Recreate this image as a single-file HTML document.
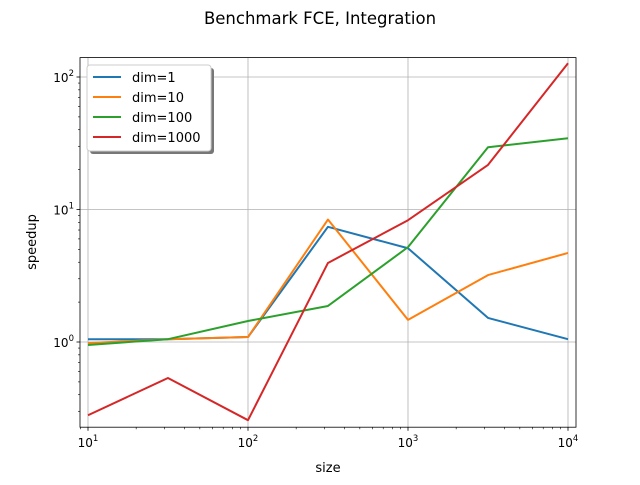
<!DOCTYPE html>
<html><head><meta charset="utf-8"><style>
body{margin:0;background:#fff;}
svg text{font-family:"DejaVu Sans","Liberation Sans",sans-serif;}
</style></head><body>
<svg id="chart" width="640" height="480" xmlns="http://www.w3.org/2000/svg">
<rect width="640" height="480" fill="#fff"/>
<text x="320" y="24" text-anchor="middle" font-size="16.5">Benchmark FCE, Integration</text>
<g id="grid"></g><g id="ticks"></g><g id="series"></g>
<rect x="80" y="57.6" width="496" height="369.6" fill="none" stroke="#000" stroke-width="0.8"/>
<text x="328" y="472" text-anchor="middle" font-size="13">size</text>
<text transform="translate(36,242) rotate(-90)" text-anchor="middle" font-size="13">speedup</text>
<g id="legend"></g>
</svg>
<script>
const sizes=[10,31.6,100,316,1000,3162,10000];
const seriesNames=["dim=1","dim=10","dim=100","dim=1000"];
const dim1=[1.05,1.05,1.09,7.4,5.1,1.52,1.05];
const dim10=[0.98,1.05,1.09,8.4,1.47,3.2,4.7];
const dim100=[0.95,1.05,1.44,1.87,5.2,29.5,34.5];
const dim1000=[0.28,0.535,0.257,3.95,8.3,21.7,127];
const xTicks=[1,2,3,4];
const yTicks=[0,1,2];
const colors=["#1f77b4","#ff7f0e","#2ca02c","#d62728"];
const NS="http://www.w3.org/2000/svg";
function X(v){return 88+(Math.log10(v)-1)*160;}
function Y(v){return 342-Math.log10(v)*132.5;}
function mk(t,a,p){const e=document.createElementNS(NS,t);for(const k in a)e.setAttribute(k,a[k]);p.appendChild(e);return e;}
const grid=document.getElementById('grid'),ticks=document.getElementById('ticks');
xTicks.forEach(p=>{const x=X(Math.pow(10,p));
 const g=mk('line',{x1:x,x2:x,y1:57.6,y2:427.2,stroke:'#b0b0b0','stroke-width':0.8},grid);
 
 mk('line',{x1:x,x2:x,y1:427.2,y2:430.7,stroke:'#000','stroke-width':0.8},ticks);
 const t=mk('text',{x:x,y:447,'text-anchor':'middle','font-size':12},ticks);
 
 t.innerHTML='10<tspan dy="-6" font-size="8.5">'+p+'</tspan>';
 for(let m=2;m<10&&p<4;m++){const xm=X(m*Math.pow(10,p));mk('line',{x1:xm,x2:xm,y1:427.2,y2:429.2,stroke:'#000','stroke-width':0.6},ticks);}
});
[9].forEach(v=>mk('line',{x1:X(v),x2:X(v),y1:427.2,y2:429.2,stroke:'#000','stroke-width':0.6},ticks));
yTicks.forEach(p=>{const y=Y(Math.pow(10,p));
 const g=mk('line',{x1:80,x2:576,y1:y,y2:y,stroke:'#b0b0b0','stroke-width':0.8},grid);
 
 mk('line',{x1:76.5,x2:80,y1:y,y2:y,stroke:'#000','stroke-width':0.8},ticks);
 const t=mk('text',{x:74,y:y+5,'text-anchor':'end','font-size':12},ticks);
 
 t.innerHTML='10<tspan dy="-6" font-size="8.5">'+p+'</tspan>';
});
for(let p=-1;p<=2;p++)for(let m=2;m<10;m++){const y=Y(m*Math.pow(10,p));if(y>57.6&&y<427.2)mk('line',{x1:78,x2:80,y1:y,y2:y,stroke:'#000','stroke-width':0.6},ticks);}
const ser=document.getElementById('series');
[dim1,dim10,dim100,dim1000].forEach((d,i)=>{
 const pl=mk('polyline',{points:d.map((v,j)=>X(sizes[j])+','+Y(v)).join(' '),fill:'none',stroke:colors[i],'stroke-width':2,'stroke-linejoin':'round'},ser);
 
 
});
const lg=document.getElementById('legend');


mk('rect',{x:90,y:68,width:124,height:86,rx:3,fill:'#777'},lg);
mk('rect',{x:87,y:65,width:124,height:86,rx:3,fill:'#fff',stroke:'#ccc'},lg);
seriesNames.forEach((n,i)=>{const y=77+i*20;
 mk('line',{x1:93,x2:121,y1:y,y2:y,stroke:colors[i],'stroke-width':2},lg);
 const t=mk('text',{x:132,y:y+5,'font-size':13},lg);t.textContent=n;
 
});
</script>
</body></html>
